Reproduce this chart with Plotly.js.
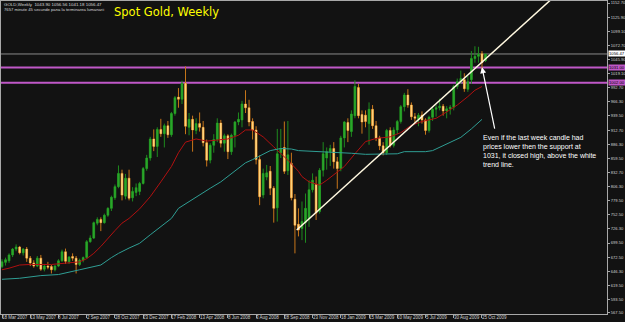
<!DOCTYPE html>
<html><head><meta charset="utf-8">
<script src="https://cdn.plot.ly/plotly-3.0.1.min.js"></script>
<style>html,body{margin:0;padding:0;background:#121212;}#chart{width:625px;height:322px;}</style>
</head><body><div id="chart"></div>
<script>
const weeks=['2007-03-18','2007-03-25','2007-04-01','2007-04-08','2007-04-15','2007-04-22','2007-04-29','2007-05-06','2007-05-13','2007-05-20','2007-05-27','2007-06-03','2007-06-10','2007-06-17','2007-06-24','2007-07-01','2007-07-08','2007-07-15','2007-07-22','2007-07-29','2007-08-05','2007-08-12','2007-08-19','2007-08-26','2007-09-02','2007-09-09','2007-09-16','2007-09-23','2007-09-30','2007-10-07','2007-10-14','2007-10-21','2007-10-28','2007-11-04','2007-11-11','2007-11-18','2007-11-25','2007-12-02','2007-12-09','2007-12-16','2007-12-23','2007-12-30',
'2008-01-06','2008-01-13','2008-01-20','2008-01-27','2008-02-03','2008-02-10','2008-02-17','2008-02-24','2008-03-02','2008-03-09','2008-03-16','2008-03-23','2008-03-30','2008-04-06','2008-04-13','2008-04-20','2008-04-27','2008-05-04','2008-05-11','2008-05-18','2008-05-25','2008-06-01','2008-06-08','2008-06-15','2008-06-22','2008-06-29','2008-07-06','2008-07-13','2008-07-20','2008-07-27','2008-08-03','2008-08-10','2008-08-17','2008-08-24','2008-08-31','2008-09-07','2008-09-14','2008-09-21','2008-09-28','2008-10-05','2008-10-12','2008-10-19','2008-10-26','2008-11-02','2008-11-09','2008-11-16','2008-11-23','2008-11-30','2008-12-07','2008-12-14','2008-12-21','2008-12-28',
'2009-01-04','2009-01-11','2009-01-18','2009-01-25','2009-02-01','2009-02-08','2009-02-15','2009-02-22','2009-03-01','2009-03-08','2009-03-15','2009-03-22','2009-03-29','2009-04-05','2009-04-12','2009-04-19','2009-04-26','2009-05-03','2009-05-10','2009-05-17','2009-05-24','2009-05-31','2009-06-07','2009-06-14','2009-06-21','2009-06-28','2009-07-05','2009-07-12','2009-07-19','2009-07-26','2009-08-02','2009-08-09','2009-08-16','2009-08-23','2009-08-30','2009-09-06','2009-09-13','2009-09-20','2009-09-27','2009-10-04','2009-10-11','2009-10-18','2009-10-25','2009-11-01'];

const openP=[655,663,666,677,688,692,681,688,671,662,
656,671,650,656,655,649,656,666,683,664,
674,671,659,667,672,702,709,737,744,738,
752,765,785,806,831,788,822,785,795,797,
812,840,860,896,882,914,906,921,904,944,
975,971,1001,918,933,912,925,918,889,856,
884,895,926,888,902,872,903,928,932,962,
955,929,913,857,790,824,835,803,766,870,
880,836,850,782,735,727,738,745,800,810,
759,837,860,872,878,853,840,898,927,910,
940,993,942,941,925,952,921,898,883,870,
912,884,913,929,957,979,960,938,933,941,
932,912,937,952,955,958,949,953,956,995,
1004,1008,990,1008,1048,1052,1057,1043.90];
const highP=[669,672,680,690,697,694,690,692,675,667,
675,677,660,664,658,658,669,687,689,675,
680,675,670,674,705,714,740,748,748,755,
767,789,810,846,838,830,838,805,812,815,
843,866,900,914,918,934,925,930,947,977,
992,1006,1033,945,940,935,946,930,895,888,
905,935,932,906,905,906,930,946,968,988,
970,935,920,865,840,847,845,807,915,915,
929,930,870,792,765,778,793,818,831,825,
841,890,880,885,890,862,902,930,935,950,
1007,1000,950,950,965,960,930,902,890,915,
918,918,932,960,983,990,965,945,945,948,
935,940,958,960,972,962,958,960,998,1010,
1025,1020,1015,1062,1071,1070,1062,1056.56];
const lowP=[652,657,662,673,684,678,676,664,656,653,
654,647,646,650,642,646,654,664,660,660,
666,642,656,663,670,700,707,733,722,736,
749,760,781,803,780,782,780,778,788,790,
810,836,855,873,862,900,880,898,900,940,
955,962,905,903,872,905,910,882,844,850,
870,890,880,872,858,866,880,922,918,945,
920,895,848,771,784,818,790,738,740,860,
830,828,780,680,712,705,700,730,795,743,
755,825,838,845,840,802,835,880,890,900,
935,935,906,918,885,915,892,875,865,866,
880,880,905,925,948,955,932,925,920,925,
904,908,930,938,950,940,935,942,950,990,
1000,985,985,1000,1040,1040,1024,1041.18];
const closeP=[664,668,677,688,692,681,688,671,662,656,
671,650,656,654,649,656,666,683,665,673,
671,659,667,672,702,709,738,744,738,752,
765,786,806,831,790,822,784,797,804,812,
840,860,896,882,914,906,921,904,944,974,
971,1001,920,933,913,925,918,889,856,884,
895,926,888,902,872,903,928,933,962,955,
928,913,857,787,831,832,803,765,868,878,
835,866,785,733,724,740,765,800,818,756,
837,868,872,878,853,840,898,928,912,943,
995,940,928,929,952,921,898,883,870,912,
884,913,929,957,979,960,938,935,941,932,
912,937,952,955,958,949,953,956,995,1004,
1010,991,1004,1048,1052,1056,1040,1056.47];

const redMaWeek=[0,2,5,8,14,18,22,24,26,28,30,32,34,36,39,42,45,48,50,51,52,55,58,61,64,67,69,71,74,77,81,84,85,87,90,92,94,97,100,103,106,110,113,116,119,123,126,129,132,134,136];
const redMa=[649,652,658,659,659,661,664,670,680,693,709,723,737,746,764,787,815,844,870,881,890,896,892,894,896,903,913,913,900,881,856,835,825,815,809,818,828,844,868,891,897,900,908,922,929,935,947,960,976,988,995];
const tealMaWeek=[0,5,11,16,22,28,31,33,36,39,42,45,48,50,53,56,59,62,65,67,69,71,73,76,79,82,84,87,90,93,96,99,103,107,112,114,120,122,124,127,130,133,136];
const tealMa=[631,633,638,640,649,658,672,680,690,699,715,730,746,765,778,790,803,815,831,842,851,857,864,874,878,877,874,873,873,871,870,869,867,867,868,872,872,874,880,890,899,915,933];

const trendDates=['2008-10-22 12:00','2010-04-11'];
const trendPrices=[724,1186];
const supportLevels=[1031,1002];
const supportLabels=['1031.00','1002.00'];
const bidPrice=1056.47;
const bidLabel='1056.47';

const xTickDates=['2007-03-18','2007-05-13','2007-07-08','2007-09-02','2007-10-28','2007-12-23','2008-02-17','2008-04-13','2008-06-08','2008-08-03','2008-09-28','2008-11-23','2009-01-18','2009-03-15','2009-05-10','2009-07-05','2009-08-30','2009-10-25'];
const xTickLabels=['18 Mar 2007','13 May 2007','8 Jul 2007','2 Sep 2007','28 Oct 2007','23 Dec 2007','17 Feb 2008','13 Apr 2008','8 Jun 2008','3 Aug 2008','28 Sep 2008','23 Nov 2008','18 Jan 2009','15 Mar 2009','10 May 2009','5 Jul 2009','30 Aug 2009','25 Oct 2009'];
const yTickVals=[1152.70,1125.90,1099.10,1072.70,1045.90,1019.10,992.70,966.30,939.50,912.70,886.30,859.50,832.70,806.30,779.50,752.50,726.30,699.50,672.50,646.30,619.50,593.50,567.50];
const yTickLabels=yTickVals.map(v=>v.toFixed(2));

const headerLine1='GOLD,Weekly  1043.90 1056.56 1041.18 1056.47';
const headerLine2='7657 minute 45 secunde pana la terminarea lumanarii';
const chartTitle='Spot Gold, Weekly';
const noteText='Even if the last week candle had<br>prices lower then the support at<br>1031, it closed high, above the white<br>trend line.';

const bodyHigh=openP.map((o,i)=>Math.max(o,closeP[i]));
const bodyLow=openP.map((o,i)=>Math.min(o,closeP[i]));

const traces=[
 {type:'candlestick',x:weeks,open:openP,high:highP,low:lowP,close:closeP,
  increasing:{line:{color:'#1e8a1e',width:1},fillcolor:'#1e8a1e'},
  decreasing:{line:{color:'#c8761a',width:1},fillcolor:'#c8761a'},
  whiskerwidth:0,hoverinfo:'skip'},
 {type:'candlestick',x:weeks,open:openP,high:bodyHigh,low:bodyLow,close:closeP,
  increasing:{line:{color:'#2aa52a',width:0},fillcolor:'#2aa52a'},
  decreasing:{line:{color:'#ffd27a',width:0},fillcolor:'#ffd27a'},
  whiskerwidth:0,hoverinfo:'skip'},
 {type:'scatter',mode:'lines',x:redMaWeek.map(k=>weeks[k]),y:redMa,line:{color:'#b01010',width:1},hoverinfo:'skip'},
 {type:'scatter',mode:'lines',x:tealMaWeek.map(k=>weeks[k]),y:tealMa,line:{color:'#2f9e94',width:1},hoverinfo:'skip'},
 {type:'scatter',mode:'lines',x:trendDates,y:trendPrices,line:{color:'#fff8e0',width:1.5},hoverinfo:'skip'}
];

const PX=v=>(314-v)/313;
const shapes=supportLevels.map(v=>({type:'line',xref:'paper',x0:0,x1:1,yref:'y',y0:v,y1:v,layer:'below',line:{color:'#c058c8',width:2}}));
shapes.push({type:'line',xref:'paper',x0:0,x1:1,yref:'y',y0:bidPrice,y1:bidPrice,layer:'below',line:{color:'#8a8a8a',width:1}});

const annotations=[
 {xref:'paper',yref:'paper',x:0.002,y:PX(4.7),xanchor:'left',yanchor:'middle',text:headerLine1,showarrow:false,font:{family:'Liberation Sans',size:4.4,color:'#d8d8d8'}},
 {xref:'paper',yref:'paper',x:0.002,y:PX(9.3),xanchor:'left',yanchor:'middle',text:headerLine2,showarrow:false,font:{family:'Liberation Sans',size:4.2,color:'#d8d8d8'}},
 {xref:'paper',yref:'paper',x:(112-1)/606,y:PX(12.5),xanchor:'left',yanchor:'middle',text:chartTitle,showarrow:false,font:{family:'DejaVu Sans',size:11.5,color:'#ffff00'}},
 {xref:'paper',yref:'paper',x:(481-1)/606,y:PX(150.5),xanchor:'left',yanchor:'middle',align:'left',text:noteText,showarrow:false,font:{family:'Liberation Sans',size:7,color:'#ffffff'}},
 {xref:'x',yref:'y',x:'2009-10-25',y:1031.5,ax:13,ay:63,text:'',showarrow:true,arrowhead:2,arrowsize:1,arrowwidth:1.2,arrowcolor:'#ffffff'},
 {xref:'paper',yref:'y',x:1,y:bidPrice,xanchor:'left',yanchor:'middle',xshift:1,text:bidLabel,showarrow:false,bgcolor:'#ffffff',borderpad:0,font:{family:'Liberation Sans',size:4.2,color:'#000000'}}
];
supportLevels.forEach((v,i)=>annotations.push({xref:'paper',yref:'y',x:1,y:v,xanchor:'left',yanchor:'middle',xshift:1,text:supportLabels[i],showarrow:false,bgcolor:'#c058c8',borderpad:0,font:{family:'Liberation Sans',size:4.2,color:'#000000'}}));
xTickDates.forEach((d,i)=>annotations.push({xref:'x',yref:'paper',x:d,y:PX(317.8),xanchor:'left',yanchor:'middle',xshift:-1,text:xTickLabels[i],showarrow:false,borderpad:0,font:{family:'Liberation Sans',size:4.5,color:'#d0d0d0'}}));

const layout={
 width:625,height:322,
 margin:{l:1,r:18,t:1,b:8,pad:0},
 paper_bgcolor:'#121212',plot_bgcolor:'#121212',
 showlegend:false,hovermode:false,boxgap:0.3,
 xaxis:{type:'date',range:['2007-03-16','2010-06-30'],rangeslider:{visible:false},showgrid:false,zeroline:false,
  showline:true,mirror:true,linecolor:'#a8a8a8',linewidth:1,tickmode:'array',tickvals:xTickDates,showticklabels:false,
  ticks:'outside',ticklen:3,tickcolor:'#a8a8a8'},
 yaxis:{side:'right',range:[565.5,1156.5],showgrid:false,zeroline:false,showline:true,mirror:true,linecolor:'#a8a8a8',linewidth:1,
  tickmode:'array',tickvals:yTickVals,ticktext:yTickLabels,ticks:'outside',ticklen:2,tickcolor:'#a8a8a8',
  tickfont:{family:'Liberation Sans',size:4.1,color:'#d0d0d0'}},
 shapes:shapes,annotations:annotations
};
Plotly.newPlot('chart',traces,layout,{staticPlot:true,displayModeBar:false});
</script></body></html>
